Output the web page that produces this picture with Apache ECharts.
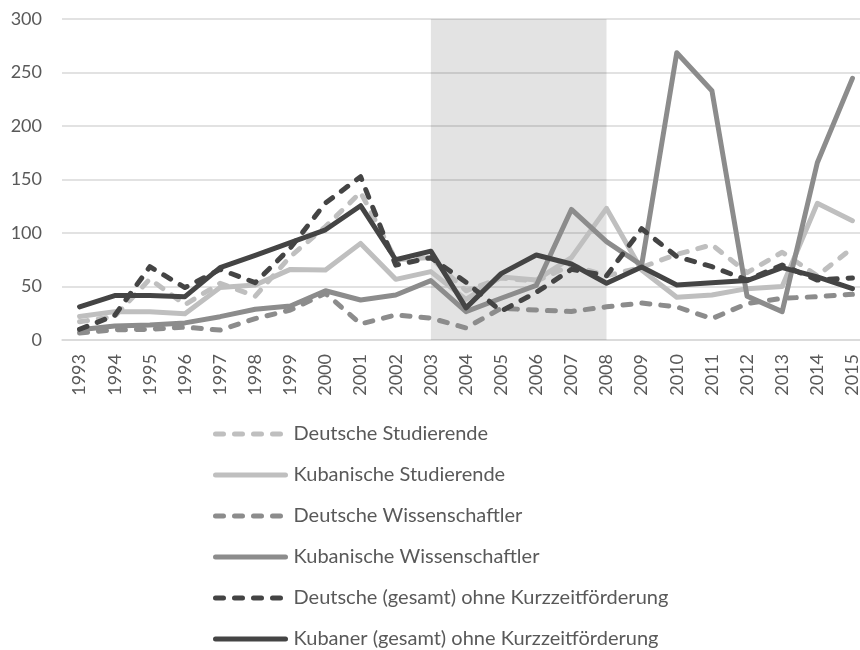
<!DOCTYPE html>
<html>
<head>
<meta charset="utf-8">
<script src="https://cdn.jsdelivr.net/npm/echarts@6/dist/echarts.min.js"></script>
<style>
html,body{margin:0;padding:0;background:#fff;overflow:hidden;width:860px;height:650px;}
#chart{width:871px;height:720px;}
</style>
</head>
<body>
<div id="chart"></div>
<script>
// ---- data ----
var years = ['1993','1994','1995','1996','1997','1998','1999','2000','2001','2002','2003','2004','2005','2006','2007','2008','2009','2010','2011','2012','2013','2014','2015'];
var yTicks = [0, 50, 100, 150, 200, 250, 300];
var shadeFrom = '2003';
var shadeTo = '2008';

var deutscheStudierende = [17, 22, 57, 33, 53, 41, 78, 106, 138, 75, 77, 46, 58, 55, 70, 60, 68, 80, 89, 63, 82, 60, 86];
var kubanischeStudierende = [22, 26.5, 26.5, 24.5, 49, 51.4, 66, 65.4, 90.3, 56.7, 63.9, 38, 59, 56, 77, 123, 65.4, 40, 42, 48, 50, 127.7, 111.5];
var deutscheWissenschaftler = [6.5, 9.5, 10, 12, 9.3, 20, 28, 43.6, 15, 23.4, 20.5, 11.3, 29.6, 28, 26.7, 31, 34.5, 31, 20, 34, 39, 40.5, 42.7];
var kubanischeWissenschaftler = [9.5, 13, 14, 16, 21.8, 28.7, 31.8, 46, 37.4, 42, 55.5, 26.5, 39, 51, 122, 92, 70, 268.5, 233, 41, 26.5, 165.7, 244.5];
var deutscheGesamt = [10, 23, 68.5, 49, 66, 53.6, 86, 128, 152.6, 70, 77, 54, 27, 44.5, 66, 60, 104, 78, 68.5, 56, 70, 56, 58];
var kubanerGesamt = [31, 41.5, 41.5, 40.5, 67.6, 79, 91, 103, 125.5, 75, 83, 30, 62, 79.4, 71, 53, 68.3, 51.4, 53.6, 55.5, 67.6, 59, 48];

var names = ['Deutsche Studierende','Kubanische Studierende','Deutsche Wissenschaftler','Kubanische Wissenschaftler','Deutsche (gesamt) ohne Kurzzeitförderung','Kubaner (gesamt) ohne Kurzzeitförderung'];
var values = [deutscheStudierende, kubanischeStudierende, deutscheWissenschaftler, kubanischeWissenschaftler, deutscheGesamt, kubanerGesamt];
var colors = ['#bfbfbf','#bfbfbf','#8c8c8c','#8c8c8c','#444444','#444444'];
var dashed = [true,false,true,false,true,false];

var FONT = 'Lato';
var TXT = '#595959';

var series = [{
  name: 'shade', type: 'line', data: [], z: 1, silent: true,
  markArea: {
    silent: true,
    itemStyle: { color: 'rgba(0,0,0,0.11)' },
    data: [[{ xAxis: shadeFrom }, { xAxis: shadeTo }]]
  }
}];
names.forEach(function (n, i) {
  series.push({
    name: n, type: 'line', data: values[i], symbol: 'none', showSymbol: false, z: 3,
    lineStyle: { color: colors[i], width: 5, type: dashed[i] ? [8, 11] : 'solid', cap: 'round', join: 'round' },
    itemStyle: { color: colors[i] }
  });
});

var chart = echarts.init(document.getElementById('chart'), null, { renderer: 'canvas' });
chart.setOption({
  animation: false,
  backgroundColor: '#ffffff',
  grid: { left: 62, top: 19, width: 808, height: 321, containLabel: false, outerBoundsMode: 'none' },
  xAxis: {
    type: 'category', data: years, boundaryGap: true,
    axisLine: { show: true, lineStyle: { color: '#d9d9d9', width: 1.5 } },
    axisTick: { show: false },
    axisLabel: { rotate: 90, margin: 14, color: TXT, fontFamily: FONT, fontSize: 18, interval: 0 }
  },
  yAxis: {
    type: 'value', min: yTicks[0], max: yTicks[yTicks.length - 1], interval: 50,
    axisLine: { show: false }, axisTick: { show: false },
    axisLabel: { margin: 20, color: TXT, fontFamily: FONT, fontSize: 18 },
    splitLine: { show: true, lineStyle: { color: '#d9d9d9', width: 1.5 } }
  },
  legend: {
    data: names, orient: 'vertical', left: 213, top: 424, height: 280, padding: 0,
    itemWidth: 70, itemHeight: 14, itemGap: 21,
    itemStyle: { color: 'rgba(0,0,0,0)', borderWidth: 0, opacity: 0 },
    lineStyle: { width: 5 },
    textStyle: { color: TXT, fontFamily: FONT, fontSize: 20, lineHeight: 20, padding: [0, 0, 0, 3] },
    selectedMode: false
  },
  series: series
});
</script>
</body>
</html>
